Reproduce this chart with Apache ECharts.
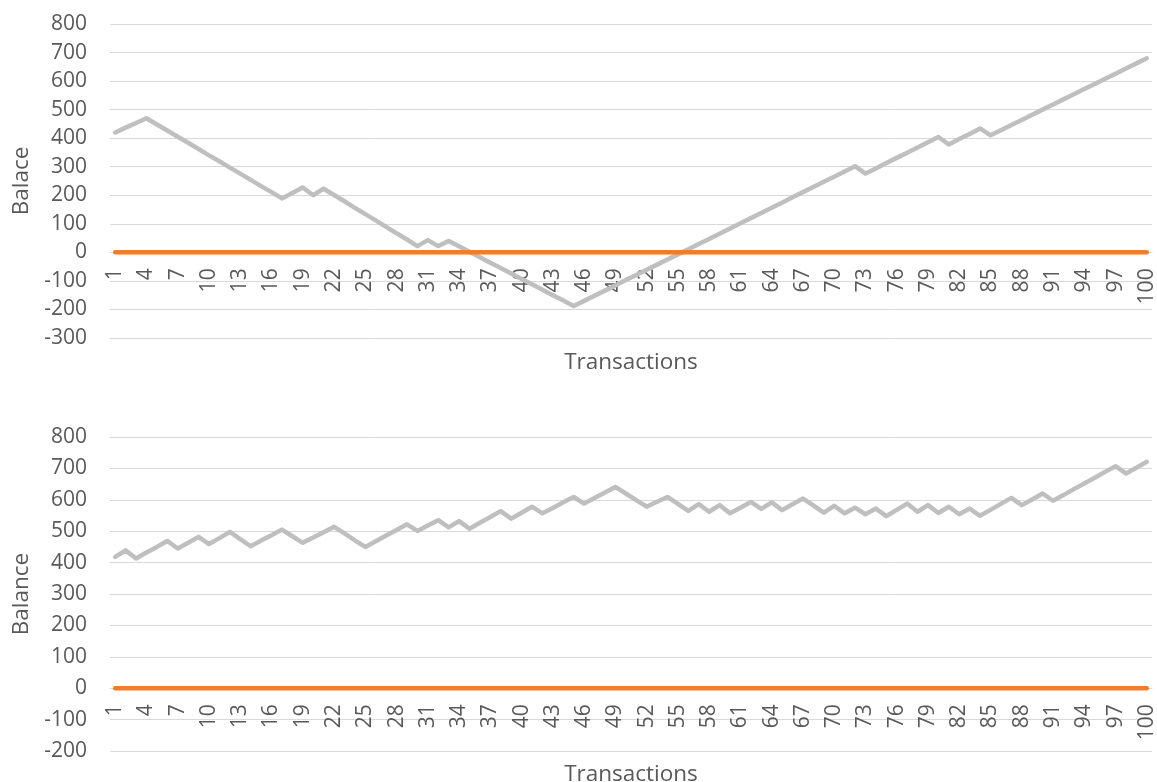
<!DOCTYPE html>
<html>
<head>
<meta charset="utf-8">
<script src="https://cdn.jsdelivr.net/npm/echarts@6/dist/echarts.min.js"></script>
<style>
html,body{margin:0;padding:0;background:#fff;}
#chart{width:1157px;height:782px;}
</style>
</head>
<body>
<div id="chart"></div>
<script>
var transactions = [1,2,3,4,5,6,7,8,9,10,11,12,13,14,15,16,17,18,19,20,21,22,23,24,25,26,27,28,29,30,31,32,33,34,35,36,37,38,39,40,41,42,43,44,45,46,47,48,49,50,51,52,53,54,55,56,57,58,59,60,61,62,63,64,65,66,67,68,69,70,71,72,73,74,75,76,77,78,79,80,81,82,83,84,85,86,87,88,89,90,91,92,93,94,95,96,97,98,99,100];

var balanceTop = [420,437,453,470,448,427,405,384,362,340,319,297,276,254,232,211,189,208,227,200,223,201,179,156,134,112,89,67,45,22,43,22,40,21,2,-17,-36,-55,-74,-93,-112,-131,-150,-169,-188,-170,-152,-134,-116,-97,-79,-61,-43,-25,-7,11,29,47,65,84,102,120,138,156,174,193,211,229,247,265,283,302,276,294,313,331,349,367,386,404,378,397,415,434,410,428,446,464,482,500,518,536,554,572,590,608,626,644,662,680];

var balanceBottom = [418,439,413,432,450,469,445,463,482,459,478,498,475,452,470,487,505,484,463,480,497,514,493,471,450,468,486,504,522,501,518,535,512,532,508,527,545,564,540,559,578,557,574,592,609,588,606,623,641,620,599,578,594,609,587,565,586,562,583,557,575,593,571,592,567,586,604,582,559,581,557,575,554,572,548,568,588,562,583,558,578,554,572,549,568,587,606,583,601,620,597,615,634,652,670,689,707,684,702,721];

var zeroLine = [0,0,0,0,0,0,0,0,0,0,0,0,0,0,0,0,0,0,0,0,0,0,0,0,0,0,0,0,0,0,0,0,0,0,0,0,0,0,0,0,0,0,0,0,0,0,0,0,0,0,0,0,0,0,0,0,0,0,0,0,0,0,0,0,0,0,0,0,0,0,0,0,0,0,0,0,0,0,0,0,0,0,0,0,0,0,0,0,0,0,0,0,0,0,0,0,0,0,0,0];

var topAxisTitle = 'Balace';
var bottomAxisTitle = 'Balance';
var xAxisTitle = 'Transactions';
var topRange = [-300, 800];
var bottomRange = [-200, 800];

var FONT = "'Open Sans', sans-serif";
var TXT = '#595959';
var GRID = '#D9D9D9';
var GRID_H = 314;

function xAxisCfg(idx, range, nameGap) {
  // place the category axis on the zero value of the y axis
  var zeroOffset = -((0 - range[0]) / (range[1] - range[0])) * GRID_H;
  return {
    type: 'category', gridIndex: idx, data: transactions, boundaryGap: true,
    position: 'bottom', offset: zeroOffset,
    axisLine: { show: true, onZero: false, lineStyle: { color: GRID } },
    axisTick: { show: false },
    axisLabel: { interval: 2, rotate: 90, margin: 16, color: TXT, fontFamily: FONT, fontSize: 21 },
    name: xAxisTitle, nameLocation: 'middle', nameGap: nameGap,
    nameTextStyle: { color: TXT, fontFamily: FONT, fontSize: 22.5 }
  };
}
function yAxisCfg(idx, range, name) {
  return {
    type: 'value', gridIndex: idx, min: range[0], max: range[1], interval: 100,
    axisLine: { show: false }, axisTick: { show: false },
    axisLabel: { margin: 23, color: TXT, fontFamily: FONT, fontSize: 21 },
    splitLine: { lineStyle: { color: GRID, width: 1 } },
    name: name, nameLocation: 'middle', nameGap: 76, nameRotate: 90,
    nameTextStyle: { color: TXT, fontFamily: FONT, fontSize: 22.5 }
  };
}
function lineSeries(idx, data, color) {
  return {
    type: 'line', xAxisIndex: idx, yAxisIndex: idx, data: data,
    showSymbol: false, symbol: 'none', animation: false,
    lineStyle: { color: color, width: 4.5, cap: 'round', join: 'round' }
  };
}

var chart = echarts.init(document.getElementById('chart'));
chart.setOption({
  animation: false,
  backgroundColor: '#ffffff',
  grid: [
    { left: 110, width: 1042, top: 24, height: GRID_H, containLabel: false, outerBoundsMode: 'none' },
    { left: 110, width: 1042, top: 437, height: GRID_H, containLabel: false, outerBoundsMode: 'none' }
  ],
  xAxis: [ xAxisCfg(0, topRange, 99), xAxisCfg(1, bottomRange, 75) ],
  yAxis: [ yAxisCfg(0, topRange, topAxisTitle), yAxisCfg(1, bottomRange, bottomAxisTitle) ],
  series: [
    lineSeries(0, balanceTop, '#BFBFBF'),
    lineSeries(0, zeroLine, '#ED7D31'),
    lineSeries(1, balanceBottom, '#BFBFBF'),
    lineSeries(1, zeroLine, '#ED7D31')
  ]
});
</script>
</body>
</html>
